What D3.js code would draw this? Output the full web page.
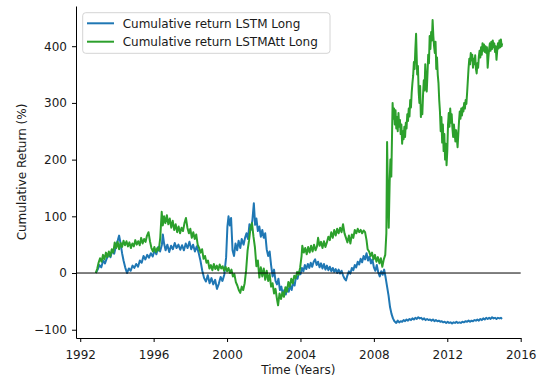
<!DOCTYPE html>
<html>
<head>
<meta charset="utf-8">
<script src="https://cdn.jsdelivr.net/npm/d3@7"></script>
<style>
  body { margin: 0; background: #fff; }
  svg { display: block; }
  text { font-family: "DejaVu Sans", sans-serif; fill: #1a1a1a; }
</style>
</head>
<body>
<svg id="chart" width="539" height="383"></svg>
<script>
// Cumulative return (%) of the long strategy for each model, [year, value]
const lstmLong = [
  [1992.85,0],[1992.95,6],[1993.05,14],[1993.15,10],[1993.25,22],[1993.35,17],[1993.45,26],[1993.55,33],[1993.65,28],[1993.75,40],[1993.85,34],[1993.95,48],[1994.05,58],[1994.12,66],[1994.2,52],[1994.28,35],[1994.36,22],[1994.45,10],[1994.55,0],[1994.65,8],[1994.75,4],[1994.85,13],[1994.95,9],[1995.05,16],[1995.15,11],[1995.25,22],[1995.35,18],[1995.45,30],[1995.55,24],[1995.65,32],[1995.75,27],[1995.85,35],[1995.95,29],[1996.05,40],[1996.15,33],[1996.25,46],[1996.35,38],[1996.45,50],[1996.5,68],[1996.57,52],[1996.65,40],[1996.75,50],[1996.85,37],[1996.95,48],[1997.05,42],[1997.15,53],[1997.25,44],[1997.35,50],[1997.45,41],[1997.55,49],[1997.65,40],[1997.75,52],[1997.85,44],[1997.95,55],[1998.05,42],[1998.15,50],[1998.25,38],[1998.35,47],[1998.45,36],[1998.55,22],[1998.65,4],[1998.75,-9],[1998.85,-15],[1998.95,-4],[1999.05,-18],[1999.15,-9],[1999.25,-20],[1999.35,-12],[1999.45,-28],[1999.55,-19],[1999.65,-7],[1999.75,-14],[1999.85,-3],[1999.95,28],[2000.02,82],[2000.08,100],[2000.15,84],[2000.22,97],[2000.3,40],[2000.38,30],[2000.46,52],[2000.55,40],[2000.63,57],[2000.72,44],[2000.8,60],[2000.9,50],[2000.98,62],[2001.06,70],[2001.14,60],[2001.22,86],[2001.3,76],[2001.38,93],[2001.46,123],[2001.53,85],[2001.6,96],[2001.68,74],[2001.76,82],[2001.84,64],[2001.92,76],[2002.0,62],[2002.08,70],[2002.16,42],[2002.24,30],[2002.32,38],[2002.4,14],[2002.48,-6],[2002.56,6],[2002.64,-14],[2002.72,-20],[2002.8,-10],[2002.88,-30],[2002.96,-24],[2003.04,-39],[2003.12,-30],[2003.2,-38],[2003.28,-25],[2003.36,-33],[2003.44,-22],[2003.52,-30],[2003.6,-16],[2003.68,-22],[2003.76,-6],[2003.84,-10],[2003.92,2],[2004.0,-2],[2004.08,9],[2004.16,3],[2004.24,14],[2004.32,7],[2004.4,16],[2004.48,9],[2004.56,18],[2004.64,11],[2004.72,20],[2004.8,24],[2004.88,14],[2004.96,20],[2005.04,10],[2005.12,17],[2005.2,8],[2005.28,16],[2005.36,6],[2005.44,13],[2005.52,5],[2005.6,11],[2005.68,3],[2005.76,9],[2005.84,2],[2005.92,7],[2006.0,0],[2006.08,6],[2006.16,-1],[2006.24,4],[2006.32,-4],[2006.4,-10],[2006.48,-13],[2006.56,-4],[2006.64,3],[2006.72,-1],[2006.8,9],[2006.88,5],[2006.96,14],[2007.04,10],[2007.12,20],[2007.2,15],[2007.28,25],[2007.36,19],[2007.44,30],[2007.52,24],[2007.6,35],[2007.68,22],[2007.76,29],[2007.84,17],[2007.92,24],[2008.0,10],[2008.08,4],[2008.16,14],[2008.24,1],[2008.32,-6],[2008.4,3],[2008.48,-3],[2008.56,6],[2008.64,-8],[2008.72,-24],[2008.8,-40],[2008.88,-60],[2008.96,-72],[2009.04,-80],[2009.12,-85],
  [2009.22,-88],[2009.3,-84],[2009.38,-87],[2009.46,-85],[2009.54,-86],[2009.62,-83],[2009.7,-85],[2009.78,-82],[2009.86,-84],[2009.94,-81],[2010.02,-83],[2010.1,-80],[2010.18,-82],[2010.26,-79],[2010.34,-81],[2010.42,-78],[2010.5,-80],[2010.58,-79],[2010.66,-82],[2010.74,-80],[2010.82,-83],[2010.9,-81],[2010.98,-83],[2011.06,-82],[2011.14,-84],[2011.22,-82],[2011.3,-85],[2011.38,-83],[2011.46,-85],[2011.54,-84],[2011.62,-86],[2011.7,-85],[2011.78,-87],[2011.86,-86],[2011.94,-88],[2012.02,-86],[2012.1,-88],[2012.18,-87],[2012.26,-89],[2012.34,-87],[2012.42,-88],[2012.5,-86],[2012.58,-88],[2012.66,-87],[2012.74,-88],[2012.82,-86],[2012.9,-87],[2013.0,-85],[2013.08,-86],[2013.16,-84],[2013.24,-86],[2013.32,-84],[2013.4,-85],[2013.48,-83],[2013.56,-84],[2013.64,-82],[2013.72,-84],[2013.8,-81],[2013.88,-83],[2013.96,-80],[2014.04,-82],[2014.12,-79],[2014.2,-81],[2014.28,-79],[2014.36,-81],[2014.44,-78],[2014.52,-80],[2014.6,-79],[2014.68,-81],[2014.76,-79],[2014.84,-80],[2014.92,-79],[2014.98,-81]
];

const lstmAttLong = [
  [1992.85,0],[1992.93,8],[1993.0,18],[1993.08,26],[1993.16,20],[1993.24,32],[1993.32,24],[1993.4,36],[1993.48,28],[1993.56,38],[1993.64,30],[1993.72,42],[1993.8,36],[1993.88,54],[1993.96,44],[1994.04,55],[1994.12,42],[1994.2,53],[1994.28,46],[1994.36,57],[1994.44,49],[1994.52,56],[1994.6,47],[1994.68,54],[1994.76,44],[1994.84,52],[1994.92,47],[1995.0,58],[1995.08,50],[1995.16,56],[1995.24,49],[1995.32,62],[1995.4,52],[1995.48,60],[1995.56,55],[1995.64,66],[1995.72,72],[1995.8,56],[1995.88,44],[1995.96,38],[1996.04,46],[1996.12,37],[1996.2,44],[1996.28,40],[1996.36,62],[1996.44,108],[1996.5,84],[1996.57,100],[1996.64,88],[1996.72,102],[1996.8,86],[1996.88,96],[1996.96,80],[1997.04,92],[1997.12,76],[1997.2,86],[1997.28,72],[1997.36,82],[1997.44,70],[1997.52,80],[1997.6,74],[1997.68,88],[1997.76,97],[1997.84,80],[1997.92,70],[1998.0,78],[1998.08,62],[1998.16,72],[1998.24,60],[1998.32,68],[1998.4,50],[1998.48,44],[1998.56,36],[1998.64,42],[1998.72,25],[1998.8,30],[1998.88,18],[1998.96,22],[1999.04,8],[1999.12,14],[1999.2,5],[1999.28,16],[1999.36,7],[1999.44,13],[1999.52,5],[1999.6,15],[1999.68,8],[1999.76,12],[1999.84,4],[1999.92,11],[2000.0,3],[2000.08,9],[2000.16,0],[2000.24,6],[2000.32,-6],[2000.4,-2],[2000.48,-16],[2000.56,-22],[2000.64,-30],[2000.72,-35],[2000.8,-24],[2000.88,-30],[2000.96,-18],[2001.04,5],[2001.12,40],[2001.2,58],[2001.28,80],[2001.36,88],[2001.44,64],[2001.52,45],[2001.6,12],[2001.68,22],[2001.76,-8],[2001.84,10],[2001.92,-6],[2002.0,8],[2002.08,-12],[2002.16,4],[2002.24,-14],[2002.32,-2],[2002.4,-24],[2002.48,-18],[2002.56,-36],[2002.64,-28],[2002.72,-46],[2002.78,-57],[2002.86,-36],[2002.94,-46],[2003.02,-34],[2003.1,-42],[2003.18,-25],[2003.26,-33],[2003.34,-16],[2003.42,-24],[2003.5,-10],[2003.58,-18],[2003.66,-5],[2003.74,-9],[2003.82,2],[2003.9,-3],[2003.98,9],[2004.06,30],[2004.1,48],[2004.18,36],[2004.26,44],[2004.34,33],[2004.42,46],[2004.5,36],[2004.58,48],[2004.66,38],[2004.74,50],[2004.82,40],[2004.9,47],[2004.96,62],[2005.04,48],[2005.12,55],[2005.2,44],[2005.28,56],[2005.36,46],[2005.44,54],[2005.52,64],[2005.6,58],[2005.68,72],[2005.76,62],[2005.84,76],[2005.92,66],[2006.0,78],[2006.08,70],[2006.16,80],[2006.24,72],[2006.32,86],[2006.4,70],[2006.48,62],[2006.56,54],[2006.64,66],[2006.72,52],[2006.8,68],[2006.88,62],[2006.96,76],[2007.04,70],[2007.12,78],[2007.2,72],[2007.28,76],[2007.36,70],[2007.44,75],[2007.52,72],[2007.6,58],[2007.66,42],[2007.74,38],[2007.82,30],[2007.9,36],[2007.98,24],[2008.06,32],[2008.14,20],[2008.22,28],[2008.3,17],[2008.38,26],[2008.46,11],[2008.54,24],[2008.62,32],[2008.68,70],[2008.72,231],[2008.76,150],[2008.81,80],[2008.86,160],[2008.9,200],[2008.95,170],
  [2009.02,300],[2009.06,272],[2009.1,290],[2009.14,262],[2009.18,287],[2009.22,255],[2009.26,275],[2009.3,250],[2009.34,282],[2009.38,258],[2009.42,270],[2009.46,245],[2009.5,262],[2009.54,228],[2009.58,250],[2009.62,236],[2009.66,258],[2009.7,240],[2009.74,265],[2009.78,255],[2009.82,280],[2009.86,268],[2009.9,290],[2009.94,276],[2009.98,305],[2010.02,292],[2010.06,318],[2010.1,335],[2010.14,348],[2010.18,372],[2010.22,360],[2010.26,395],[2010.3,422],[2010.33,385],[2010.36,350],[2010.4,365],[2010.44,320],[2010.48,300],[2010.52,330],[2010.56,275],[2010.6,295],[2010.64,280],[2010.68,315],[2010.72,340],[2010.76,322],[2010.8,368],[2010.84,338],[2010.88,320],[2010.92,350],[2010.96,385],[2011.0,370],[2011.04,418],[2011.08,395],[2011.12,425],[2011.16,410],[2011.2,446],[2011.24,418],[2011.28,400],[2011.32,388],[2011.36,408],[2011.4,360],[2011.44,380],[2011.48,350],[2011.52,335],[2011.56,305],[2011.6,285],[2011.64,250],[2011.68,275],[2011.72,230],[2011.76,262],[2011.8,215],[2011.84,245],[2011.88,200],[2011.92,228],[2011.96,190],[2012.0,215],[2012.04,262],[2012.08,282],[2012.12,258],[2012.16,290],[2012.2,265],[2012.24,280],[2012.28,255],[2012.32,240],[2012.36,262],[2012.4,248],[2012.44,232],[2012.48,252],[2012.52,238],[2012.56,222],[2012.6,245],[2012.64,268],[2012.68,285],[2012.72,272],[2012.76,290],[2012.8,278],[2012.84,292],[2012.88,285],[2012.92,300],[2012.96,290],[2013.0,305],[2013.04,298],[2013.08,318],[2013.12,340],[2013.16,362],[2013.2,378],[2013.24,368],[2013.28,388],[2013.32,375],[2013.36,385],[2013.4,362],[2013.44,378],[2013.48,368],[2013.52,384],[2013.56,360],[2013.6,352],[2013.64,370],[2013.68,362],[2013.72,382],[2013.76,392],[2013.8,380],[2013.84,398],[2013.88,385],[2013.92,405],[2013.96,392],[2014.0,403],[2014.04,390],[2014.08,400],[2014.12,388],[2014.16,398],[2014.2,362],[2014.24,380],[2014.28,395],[2014.32,405],[2014.36,392],[2014.4,408],[2014.44,395],[2014.48,410],[2014.52,398],[2014.56,405],[2014.6,390],[2014.64,400],[2014.68,376],[2014.72,392],[2014.76,405],[2014.8,396],[2014.84,410],[2014.88,398],[2014.92,412],[2014.96,400],[2014.99,405]
];

const seriesNames = ["Cumulative return LSTM Long", "Cumulative return LSTMAtt Long"];
const seriesColors = ["#1f77b4", "#2ca02c"];
const xTicks = [1992, 1996, 2000, 2004, 2008, 2012, 2016];
const yTicks = [-100, 0, 100, 200, 300, 400];

const svg = d3.select("#chart");
const plot = { left: 76, right: 520.7, top: 6, bottom: 338 };

const x = d3.scaleLinear().domain([1991.77, 2016.0]).range([plot.left, plot.right]);
const y = d3.scaleLinear().domain([-114.6, 470.9]).range([plot.bottom, plot.top]);

// Data lines
const line = d3.line().x(d => x(d[0])).y(d => y(d[1]));
[lstmLong, lstmAttLong].forEach((data, i) => {
  svg.append("path")
    .datum(data)
    .attr("fill", "none")
    .attr("stroke", seriesColors[i])
    .attr("stroke-width", 2)
    .attr("stroke-linejoin", "round")
    .attr("d", line);
});

// Zero reference line
svg.append("line")
  .attr("x1", plot.left).attr("x2", plot.right)
  .attr("y1", y(0)).attr("y2", y(0))
  .attr("stroke", "#000").attr("stroke-width", 1);

// Axes (left and bottom spines only)
const xAxis = svg.append("g")
  .attr("transform", `translate(0,${plot.bottom})`)
  .call(d3.axisBottom(x).tickValues(xTicks).tickFormat(d3.format("d"))
    .tickSize(4).tickPadding(8).tickSizeOuter(0));
const yAxis = svg.append("g")
  .attr("transform", `translate(${plot.left},0)`)
  .call(d3.axisLeft(y).tickValues(yTicks).tickFormat(d => d < 0 ? "\u2212" + Math.abs(d) : d)
    .tickSize(4).tickPadding(5).tickSizeOuter(0));
[xAxis, yAxis].forEach(g => {
  g.selectAll("text").attr("font-size", 12).attr("font-family", "DejaVu Sans, sans-serif").attr("fill", "#1a1a1a");
  g.selectAll("path, line").attr("stroke", "#000").attr("stroke-width", 1);
});

// Axis titles
svg.append("text")
  .attr("x", (plot.left + plot.right) / 2).attr("y", 374)
  .attr("text-anchor", "middle").attr("font-size", 12)
  .text("Time (Years)");
svg.append("text")
  .attr("transform", `translate(26,${(plot.top + plot.bottom) / 2}) rotate(-90)`)
  .attr("text-anchor", "middle").attr("font-size", 12)
  .text("Cumulative Return (%)");

// Legend
const legend = svg.append("g");
legend.append("rect")
  .attr("x", 82.7).attr("y", 12.7).attr("width", 247.3).attr("height", 40.6)
  .attr("rx", 3).attr("fill", "#fff").attr("fill-opacity", 0.8)
  .attr("stroke", "#d4d4d4").attr("stroke-width", 1);
seriesNames.forEach((name, i) => {
  const ly = 23.3 + i * 18.4;
  legend.append("line")
    .attr("x1", 87).attr("x2", 114).attr("y1", ly).attr("y2", ly)
    .attr("stroke", seriesColors[i]).attr("stroke-width", 2);
  legend.append("text")
    .attr("x", 122.7).attr("y", ly + 4.6).attr("font-size", 12)
    .text(name);
});
</script>
</body>
</html>
